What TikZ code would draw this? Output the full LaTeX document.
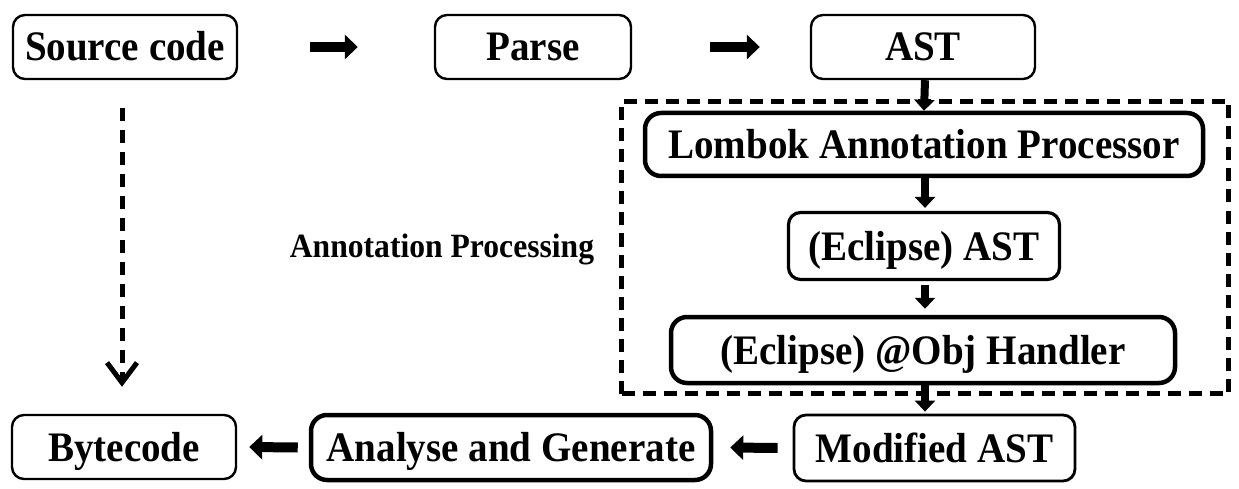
\documentclass[tikz,border=0pt]{standalone}
\usepackage{fontspec}
\setmainfont{Liberation Serif}[FakeStretch=0.93]
\usetikzlibrary{positioning,arrows.meta}

\begin{document}
\begin{tikzpicture}[x=1pt, y=-1pt, thick]
    % Styles
    \tikzstyle{stage} = [draw, rectangle, rounded corners=12pt, line width=2.4pt, inner sep=0pt, align=center, font=\bfseries\fontsize{42}{48}\selectfont, text height=30pt, text depth=2pt]
    \tikzstyle{keystage} = [stage, line width=4.5pt, rounded corners=16pt]
    \tikzstyle{hflow} = [line width=10pt, -{Triangle[length=13pt, width=24pt]}]
    \tikzstyle{vflow} = [line width=8pt, -{Triangle[length=11pt, width=20pt]}]
    \tikzstyle{skip} = [line width=5pt, dash pattern=on 13pt off 9pt, -{Straight Barb[length=20pt, width=30pt, line width=5pt]}]

    \useasboundingbox (0,0) rectangle (1239,489);

    % Top row
    \node [stage, minimum width=224pt, minimum height=64pt] (Src) at (125,47) {Source code};
    \node [stage, minimum width=196pt, minimum height=64pt] (Prs) at (533,47) {Parse};
    \node [stage, minimum width=224pt, minimum height=64pt] (Ast) at (923,47) {AST};

    % Annotation processing frame
    \node [draw, rectangle, line width=5pt, dash pattern=on 13pt off 8pt, inner sep=0pt, minimum width=607pt, minimum height=292pt] (Frame) at (925,247.5) {};
    \node [font=\bfseries\fontsize{34}{40}\selectfont, anchor=base] (Lbl) at (442,257) {Annotation Processing};

    \node [keystage, minimum width=558pt, minimum height=63pt] (Lmb) at (924,144.5) {Lombok Annotation Processor};
    \node [stage, line width=3.2pt, minimum width=271pt, minimum height=67pt] (EAst) at (924,246) {(Eclipse) AST};
    \node [keystage, minimum width=504pt, minimum height=66pt] (Hdl) at (923,350) {(Eclipse) @Obj Handler};

    % Bottom row
    \node [stage, minimum width=224pt, minimum height=64pt] (Byc) at (124,447) {Bytecode};
    \node [keystage, minimum width=400pt, minimum height=65pt] (Gen) at (511,447.5) {Analyse and Generate};
    \node [stage, line width=2.8pt, minimum width=281pt, minimum height=66pt] (MAst) at (934.5,448) {Modified AST};

    % Edges
    % Source - Parse - AST
    \draw [hflow] ([xshift=72pt]Src.east) -- ([xshift=-76pt]Prs.west);
    \draw [hflow] ([xshift=78pt]Prs.east) -- ([xshift=-50pt]Ast.west);

    % AST - Lombok - Eclipse AST - Handler - Modified AST
    \draw [vflow] ([xshift=2pt]Ast.south) -- ([xshift=1pt]Ast.south |- Lmb.north);
    \draw [vflow, shorten >=3pt] ([xshift=1pt]Lmb.south) -- ([xshift=1pt]Lmb.south |- EAst.north);
    \draw [vflow, shorten <=4pt, shorten >=6pt] ([xshift=1pt]EAst.south) -- ([xshift=1pt]EAst.south |- Hdl.north);
    \draw [vflow, shorten >=2pt] ([xshift=2pt]Hdl.south) -- ([xshift=2pt]Hdl.south |- MAst.north);

    % Modified AST - Generate - Bytecode
    \draw [hflow] ([xshift=-15pt]MAst.west) -- ([xshift=17pt]Gen.east);
    \draw [hflow] ([xshift=-11pt]Gen.west) -- ([xshift=12pt]Byc.east);

    % Skipping annotation processing
    \draw [skip, shorten <=28pt, shorten >=27pt] ([xshift=-3pt]Src.south) -- ([xshift=-3pt]Src.south |- Byc.north);

\end{tikzpicture}
\end{document}
